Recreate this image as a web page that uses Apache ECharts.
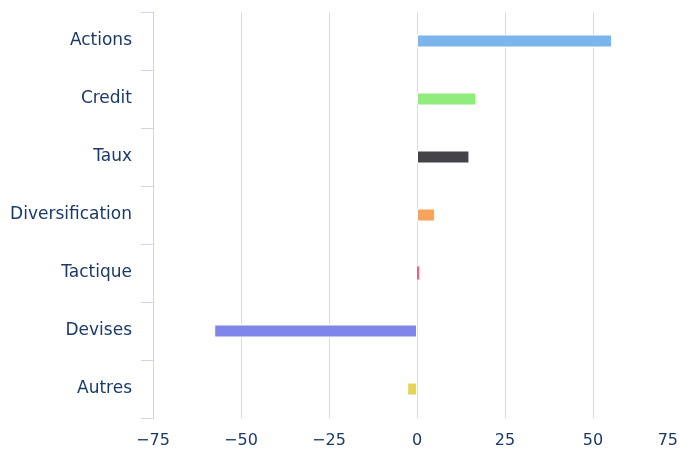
<!DOCTYPE html>
<html>
<head>
<meta charset="utf-8">
<script src="https://cdn.jsdelivr.net/npm/echarts@6/dist/echarts.min.js"></script>
<style>
html,body{margin:0;padding:0;background:#fff;}
#c{width:681px;height:449px;}
</style>
</head>
<body>
<div id="c"></div>
<script>
const categories = ['Actions','Credit','Taux','Diversification','Tactique','Devises','Autres'];
const values = [55.4, 16.9, 14.9, 5.1, 0.6, -57.6, -2.8];
const colors = ['#7cb5ec','#90ed7d','#434348','#f7a35c','#f15c80','#8085e9','#e4d354'];
const xTicks = [-75, -50, -25, 0, 25, 50, 75];

const textColor = '#1b3a68';
const font = "'DejaVu Sans', Verdana, sans-serif";
const chart = echarts.init(document.getElementById('c'));
chart.setOption({
  animation: false,
  grid: {left: 153, right: 0, top: 12, bottom: 31, containLabel: false},
  xAxis: {
    type: 'value',
    min: xTicks[0], max: xTicks[xTicks.length-1], interval: 25,
    axisLine: {show: false},
    axisTick: {show: false},
    splitLine: {show: true, lineStyle: {color: '#dcdcdc', width: 1}},
    axisLabel: {
      color: textColor, fontFamily: font, fontSize: 16, margin: 15,
      alignMaxLabel: 'right',
      formatter: v => (v < 0 ? '\u2212' + Math.abs(v) : (v === 75 ? '{m|75}' : String(v))),
      rich: {m: {color: textColor, fontFamily: font, fontSize: 16, padding: [0, 3, 0, 0]}}
    }
  },
  yAxis: {
    type: 'category',
    data: categories,
    inverse: true,
    axisLine: {show: true, onZero: false, lineStyle: {color: '#ccd6eb'}},
    axisTick: {show: true, length: 12, lineStyle: {color: '#ccd6eb'}},
    splitLine: {show: false},
    axisLabel: {color: textColor, fontFamily: font, fontSize: 17, margin: 21}
  },
  series: [{
    type: 'bar',
    data: values.map((v, i) => ({
      value: v,
      itemStyle: {color: colors[i], borderColor: '#ffffff', borderWidth: Math.abs(v) < 1 ? 0 : 1}
    })),
    barWidth: 13
  }]
});
</script>
</body>
</html>
